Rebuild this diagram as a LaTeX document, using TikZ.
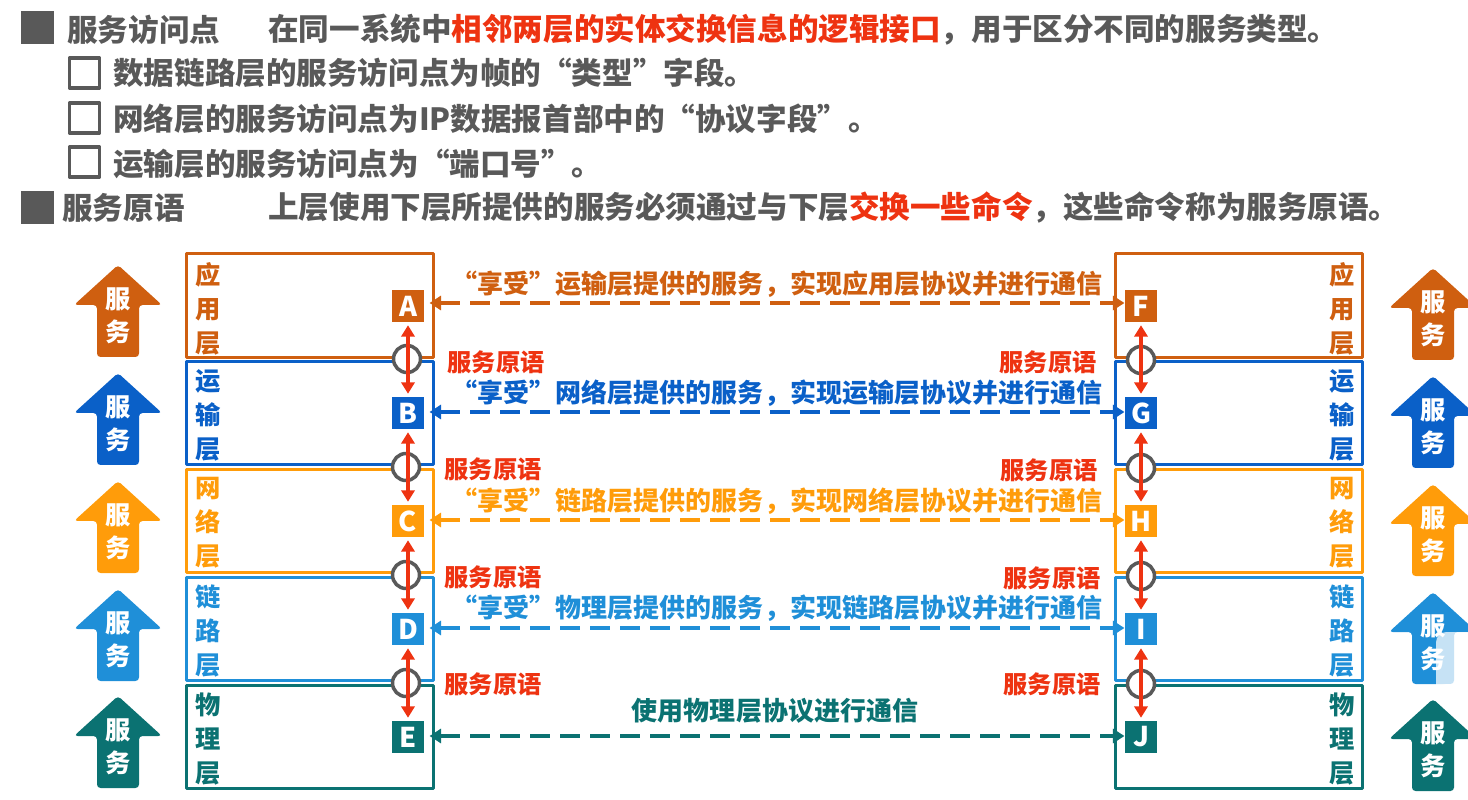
\documentclass[tikz,border=0pt]{standalone}
\usepackage{fontspec}
\setmainfont{Noto Sans CJK SC}
\usepackage{tikz}
\usetikzlibrary{arrows.meta}
\definecolor{appcol}{HTML}{CF5F10}
\definecolor{tracol}{HTML}{0A60C8}
\definecolor{netcol}{HTML}{FF9C0A}
\definecolor{lnkcol}{HTML}{1F8FD8}
\definecolor{phycol}{HTML}{0B7272}
\definecolor{redcol}{HTML}{EE3311}
\definecolor{graycol}{HTML}{595959}
\tikzset{
	layerbox/.style={draw=#1,line width=1.7pt,minimum width=4.94cm,minimum height=2.08cm,inner sep=0pt},
	layertext/.style={text=#1,font=\fontsize{14.4pt}{19.3pt}\selectfont\bfseries,align=center,inner sep=0pt},
	letterbox/.style={fill=#1,text=white,font=\fontsize{15.5pt}{15.5pt}\selectfont\bfseries,minimum size=0.65cm,inner sep=0pt},
	peer/.style={{Triangle[length=6.5pt,width=8pt]}-{Triangle[length=6.5pt,width=8pt]},dash pattern=on 0.4cm off 0.2cm,line width=2.1pt,color=#1},
	peertext/.style={text=#1,font=\fontsize{14.8pt}{16pt}\selectfont\bfseries,inner sep=0pt},
	prim/.style={{Triangle[length=6.5pt,width=7.5pt]}-{Triangle[length=6.5pt,width=7.5pt]},line width=1.9pt,color=redcol,shorten <=1.5pt,shorten >=1.5pt},
	primring/.style={circle,draw=graycol,fill=white,line width=2pt,minimum size=0.54cm,inner sep=0pt},
	primtext/.style={text=redcol,font=\fontsize{13.8pt}{16pt}\selectfont\bfseries,inner sep=0pt},
	headtext/.style={text=graycol,font=\fontsize{17.4pt}{20pt}\selectfont\bfseries,anchor=west,inner sep=0pt},
	bullet/.style={fill=graycol,minimum size=0.66cm,inner sep=0pt},
	hollow/.style={draw=graycol,line width=1.8pt,fill=white,minimum size=0.6cm,inner sep=0pt}
}
% arrow with the word inside: name, center x, top y, colour
\newcommand{\srvarrow}[4]{
	\fill[#4,rounded corners=2pt] (#2,#3-2) -- (#2+44,#3+38) -- (#2+21,#3+38) -- (#2+21,#3+90) -- (#2-21,#3+90) -- (#2-21,#3+38) -- (#2-44,#3+38) -- cycle;
	\node[text=white,font=\fontsize{14.4pt}{18.5pt}\selectfont\bfseries,align=center,inner sep=0pt] (#1) at (#2,#3+49) {服\\务};
}
\begin{document}
\begin{tikzpicture}[line cap=butt,line join=round,x=0.02cm,y=-0.02cm]
	\useasboundingbox (0,0) rectangle (1468,800);
	\clip (0,0) rectangle (1468,800);
	%%%%%%%%%%%%%%%%%%%%% H E A D %%%%%%%%%%%%%%%%%%%%%
	\node[bullet] (bulA) at (37.5,27.5) {};
	\node[headtext] (sapName) at (67,30) {服务访问点};
	\node[headtext] (sapText) at (268,30) {在同一系统中\textcolor{redcol}{相邻两层的实体交换信息的逻辑接口}，用于区分不同的服务类型。};
	\node[hollow] (boxA) at (84.5,73) {};
	\node[headtext] (itemA) at (113,73) {数据链路层的服务访问点为帧的“类型”字段。};
	\node[hollow] (boxB) at (84.5,118) {};
	\node[headtext] (itemB) at (113,119) {网络层的服务访问点为IP数据报首部中的“协议字段”。};
	\node[hollow] (boxC) at (84.5,162) {};
	\node[headtext] (itemC) at (113,164) {运输层的服务访问点为“端口号”。};
	\node[bullet] (bulB) at (37.5,207.5) {};
	\node[headtext] (priName) at (62,208) {服务原语};
	\node[headtext] (priText) at (268,208) {上层使用下层所提供的服务必须通过与下层\textcolor{redcol}{交换一些命令}，这些命令称为服务原语。};

	%%%% LAYERS LEFT
	\node[layerbox=appcol] (appL) at (310,305.5) {};
	\node[layerbox=phycol] (phyL) at (310,737) {};
	\node[layerbox=lnkcol] (lnkL) at (310,629) {};
	\node[layerbox=netcol] (netL) at (310,521) {};
	\node[layerbox=tracol] (traL) at (310,413) {};
	\node[layertext=appcol] (appLt) at (208,309) {应\\用\\层};
	\node[layertext=tracol] (traLt) at (208,415) {运\\输\\层};
	\node[layertext=netcol] (netLt) at (208,523) {网\\络\\层};
	\node[layertext=lnkcol] (lnkLt) at (208,631) {链\\路\\层};
	\node[layertext=phycol] (phyLt) at (208,739) {物\\理\\层};
	%%%% LAYERS RIGHT
	\node[layerbox=appcol] (appR) at (1239,305.5) {};
	\node[layerbox=phycol] (phyR) at (1239,737) {};
	\node[layerbox=lnkcol] (lnkR) at (1239,629) {};
	\node[layerbox=netcol] (netR) at (1239,521) {};
	\node[layerbox=tracol] (traR) at (1239,413) {};
	\node[layertext=appcol] (appRt) at (1342,309) {应\\用\\层};
	\node[layertext=tracol] (traRt) at (1342,415) {运\\输\\层};
	\node[layertext=netcol] (netRt) at (1342,523) {网\\络\\层};
	\node[layertext=lnkcol] (lnkRt) at (1342,631) {链\\路\\层};
	\node[layertext=phycol] (phyRt) at (1342,739) {物\\理\\层};

	%%%% SERVICE ARROWS
	\srvarrow{srvA}{118}{267}{appcol}
	\srvarrow{srvB}{118}{375}{tracol}
	\srvarrow{srvC}{118}{483}{netcol}
	\srvarrow{srvD}{118}{591}{lnkcol}
	\srvarrow{srvE}{118}{698}{phycol}
	\srvarrow{srvF}{1433}{270}{appcol}
	\srvarrow{srvG}{1433}{378}{tracol}
	\srvarrow{srvH}{1433}{486}{netcol}
	\srvarrow{srvI}{1433}{594}{lnkcol}
	\srvarrow{srvJ}{1433}{701}{phycol}

	%%%% LETTERS
	\node[letterbox=appcol] (A) at (408,306) {A};
	\node[letterbox=tracol] (B) at (408,413) {B};
	\node[letterbox=netcol] (C) at (408,521) {C};
	\node[letterbox=lnkcol] (D) at (408,629) {D};
	\node[letterbox=phycol] (E) at (408,737) {E};
	\node[letterbox=appcol] (F) at (1141,306) {F};
	\node[letterbox=tracol] (G) at (1141,413) {G};
	\node[letterbox=netcol] (H) at (1141,521) {H};
	\node[letterbox=lnkcol] (I) at (1141,629) {I};
	\node[letterbox=phycol] (J) at (1141,737) {J};

	%%%% RINGS
	\node[primring] (ringA) at (407,359) {};
	\node[primring] (ringB) at (406,467) {};
	\node[primring] (ringC) at (406,575) {};
	\node[primring] (ringD) at (406,683) {};
	\node[primring] (ringF) at (1141,360) {};
	\node[primring] (ringG) at (1141,468) {};
	\node[primring] (ringH) at (1141,576) {};
	\node[primring] (ringI) at (1141,684) {};
	\draw[prim] (A) -- (B);
	\draw[prim] (B) -- (C);
	\draw[prim] (C) -- (D);
	\draw[prim] (D) -- (E);
	\draw[prim] (F) -- (G);
	\draw[prim] (G) -- (H);
	\draw[prim] (H) -- (I);
	\draw[prim] (I) -- (J);

	%%%% PEERS
	\draw[peer=appcol] ([xshift=0.1cm,yshift=0.06cm]A.east) -- ([yshift=0.06cm]F.west);
	\draw[peer=tracol] ([xshift=0.1cm,yshift=0.02cm]B.east) -- ([yshift=0.02cm]G.west);
	\draw[peer=netcol] ([xshift=0.1cm,yshift=0.02cm]C.east) -- ([yshift=0.02cm]H.west);
	\draw[peer=lnkcol] ([xshift=0.1cm,yshift=0.02cm]D.east) -- ([yshift=0.02cm]I.west);
	\draw[peer=phycol] ([xshift=0.1cm,yshift=0.02cm]E.east) -- ([yshift=0.02cm]J.west);
	\node[peertext=appcol] (peerA) at (777,284) {“享受”运输层提供的服务，实现应用层协议并进行通信};
	\node[peertext=tracol] (peerB) at (777,393) {“享受”网络层提供的服务，实现运输层协议并进行通信};
	\node[peertext=netcol] (peerC) at (777,501) {“享受”链路层提供的服务，实现网络层协议并进行通信};
	\node[peertext=lnkcol] (peerD) at (777,608) {“享受”物理层提供的服务，实现链路层协议并进行通信};
	\node[peertext=phycol] (peerE) at (775,711) {使用物理层协议进行通信};

	%%%% PRIMITIVE LABELS
	\node[primtext] (priA) at (496,362) {服务原语};
	\node[primtext] (priB) at (493,469) {服务原语};
	\node[primtext] (priC) at (493,577) {服务原语};
	\node[primtext] (priD) at (493,684) {服务原语};
	\node[primtext] (priF) at (1048,362) {服务原语};
	\node[primtext] (priG) at (1049,470) {服务原语};
	\node[primtext] (priH) at (1052,578) {服务原语};
	\node[primtext] (priI) at (1052,684) {服务原语};

	%%%% OVERLAY AT THE EDGE
	\fill[white,opacity=0.75,rounded corners=6pt] (1436,632) rectangle (1480,700);
	\fill[white,rounded corners=6pt] (1436,684) rectangle (1480,702);
\end{tikzpicture}
\end{document}
